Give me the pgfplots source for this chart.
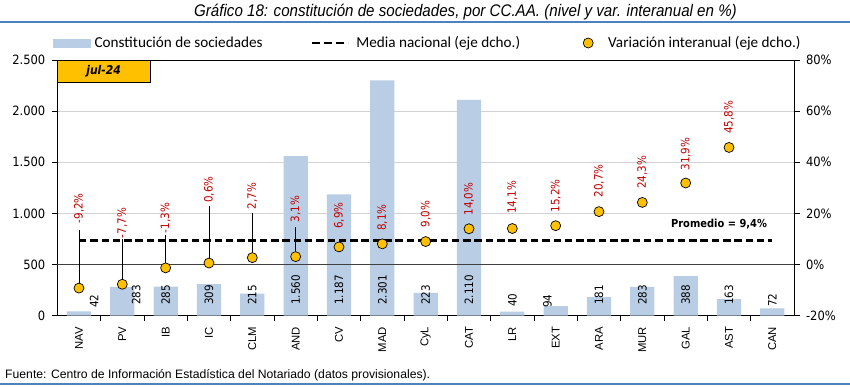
\documentclass[border=0pt]{standalone}
\usepackage{pgfplots}
\pgfplotsset{compat=1.18}
\usepackage{fontspec}
\setmainfont{Liberation Sans}
\newfontfamily\narrowf[FakeStretch=0.9]{Liberation Sans}
\newfontfamily\tahf[FakeStretch=0.9]{DejaVu Sans}
\newfontfamily\calf{Carlito}
\definecolor{barblue}{HTML}{B9CDE5}
\definecolor{dotyel}{HTML}{FFC000}
\definecolor{labred}{HTML}{C00000}
\definecolor{lineblue}{HTML}{4F81BD}
\newcommand{\tickf}{\tahf\fontsize{12.8}{15}\selectfont}
\newcommand{\valf}{\tahf\fontsize{11.5}{13}\selectfont}
\newcommand{\catf}{\fontsize{11.3}{13}\selectfont}
\newcommand{\legf}{\calf\fontsize{15.2}{17}\selectfont}

\pgfplotstableread[row sep=\\]{
x y lab\\
0.35 75 42\\
1.32 105 283\\
2 105 285\\
3 105 309\\
4 105 215\\
5 105 1.560\\
6 105 1.187\\
7 105 2.301\\
8 105 223\\
9 105 2.110\\
10 85 40\\
10.81 75 94\\
12 105 181\\
13 105 283\\
14 105 388\\
15 105 163\\
16 85 72\\
}\barlabels

\pgfplotstableread[row sep=\\]{
x y lab\\
0 0 NAV\\
1 0 PV\\
2 0 IB\\
3 0 IC\\
4 0 CLM\\
5 0 AND\\
6 0 CV\\
7 0 MAD\\
8 0 CyL\\
9 0 CAT\\
10 0 LR\\
11 0 EXT\\
12 0 ARA\\
13 0 MUR\\
14 0 GAL\\
15 0 AST\\
16 0 CAN\\
}\catlabels

\pgfplotstableread[row sep=\\]{
x y lab\\
0 16.1 -9,2\\
1 10.3 -7,7\\
2 12.2 -1,3\\
3 24.1 0,6\\
4 21.5 2,7\\
5 16.4 3,1\\
6 13.9 6,9\\
7 13.2 8,1\\
8 14.5 9,0\\
9 19.1 14,0\\
10 19.7 14,1\\
11 20.4 15,2\\
12 26.2 20,7\\
13 29.5 24,3\\
14 36.7 31,9\\
15 51.0 45,8\\
}\varlabels

\begin{document}
\begin{tikzpicture}[x=1pt,y=1pt]
\useasboundingbox (0,0) rectangle (850,386);
\node[font=\narrowf\itshape\fontsize{16.8}{20}\selectfont, anchor=base, inner sep=0pt] at (465.5,369) {Gráfico 18: constitución de sociedades, por CC.AA. (nivel y var. interanual en \%)};
\fill[lineblue] (0,362.5) rectangle (850,364.5);
\fill[lineblue] (0,1.3) rectangle (850,2.8);
\node[anchor=base west, font=\fontsize{12.2}{14}\selectfont, inner sep=0pt] at (5,8) {Fuente: Centro de Información Estadística del Notariado (datos provisionales).};

\begin{axis}[
  at={(57.3pt,70.3pt)}, anchor=south west,
  width=736.7pt, height=255.7pt, scale only axis,
  xmin=-0.5, xmax=16.5, ymin=0, ymax=2500,
  xtick={0.5,1.5,...,15.5}, xticklabels={},
  ytick={0,500,...,2500},
  tick pos=left, tick align=outside, major tick length=5.5pt,
  ymajorgrids, major grid style={gray!35, line width=0.8pt},
  axis line style={black, line width=0.8pt},
  tick style={black, line width=0.8pt},
  /pgf/number format/1000 sep={.},
  /pgf/number format/assume math mode=true,
  yticklabel style={font=\tickf, xshift=-3pt},
  clip=false,
]
\addplot[ybar, bar width=0.56, fill=barblue, draw=none] coordinates {
(0,42) (1,283) (2,285) (3,309) (4,215) (5,1560) (6,1187) (7,2301) (8,223)
(9,2110) (10,40) (11,94) (12,181) (13,283) (14,388) (15,163) (16,72)};
\addplot[draw=none, mark=none, nodes near coords={\pgfplotspointmeta}, point meta=explicit symbolic,
  every node near coord/.append style={rotate=90, anchor=west, inner sep=0pt, font=\valf, text=black}]
  table[x=x, y=y, meta=lab] {\barlabels};
\addplot[draw=none, mark=none, nodes near coords={\pgfplotspointmeta}, point meta=explicit symbolic,
  every node near coord/.append style={rotate=90, anchor=east, inner ysep=0pt, inner xsep=11pt, font=\catf, text=black}]
  table[x=x, y=y, meta=lab] {\catlabels};
\end{axis}

\begin{axis}[
  at={(57.3pt,70.3pt)}, anchor=south west,
  width=736.7pt, height=255.7pt, scale only axis,
  xmin=-0.5, xmax=16.5, ymin=-20, ymax=80,
  axis y line*=right, axis x line=none,
  axis line style={black, line width=0.8pt},
  tick style={black, line width=0.8pt},
  tick align=outside, major tick length=5.5pt,
  ytick={-20,0,20,40,60,80},
  yticklabels={-20\%,0\%,20\%,40\%,60\%,80\%},
  yticklabel style={font=\tickf, xshift=3pt},
  clip=false,
  legend columns=3,
  legend style={at={(-0.0058,1.0665)}, anchor=west, draw=none, fill=none, font=\legf,
    inner sep=0pt, nodes={inner sep=0pt},
    /tikz/every odd column/.style={column sep=4pt},
    /tikz/every even column/.style={column sep=0pt}},
]
\addlegendimage{legend image code/.code={\fill[barblue] (0pt,-4.2pt) rectangle (37pt,4.2pt);}}
\addlegendentry{Constitución de sociedades\hspace*{48pt}}
\addplot[forget plot, black!75, line width=0.9pt] coordinates {(-0.5,0) (16.5,0)};
\addplot[black, line width=2.8pt, dash pattern=on 7.5pt off 3.8pt,
  legend image code/.code={\draw[black, line width=2.8pt, dash pattern=on 8pt off 4pt] (0pt,0pt) -- (36pt,0pt);}]
  coordinates {(0,9.4) (16,9.4)};
\addlegendentry{\hspace*{3pt}Media nacional (eje dcho.)\hspace*{63pt}}
\addplot[forget plot, black, line width=0.8pt] coordinates {(0,-9.2) (0,13.4)};
\addplot[forget plot, black, line width=0.8pt] coordinates {(1,-7.7) (1,10.0)};
\addplot[forget plot, black, line width=0.8pt] coordinates {(2,-1.3) (2,11.5)};
\addplot[forget plot, black, line width=0.8pt] coordinates {(3,0.6) (3,22.9)};
\addplot[forget plot, black, line width=0.8pt] coordinates {(4,2.7) (4,20.0)};
\addplot[forget plot, black, line width=0.8pt] coordinates {(5,3.1) (5,14.8)};
\addplot[only marks, mark=*, mark size=5pt, mark options={fill=dotyel, draw=black, line width=0.7pt}]
  coordinates {(0,-9.2) (1,-7.7) (2,-1.3) (3,0.6) (4,2.7) (5,3.1) (6,6.9) (7,8.1)
  (8,9.0) (9,14.0) (10,14.1) (11,15.2) (12,20.7) (13,24.3) (14,31.9) (15,45.8)};
\addlegendentry{\hspace*{11pt}Variación interanual (eje dcho.)}
\addplot[forget plot, draw=none, mark=none, nodes near coords={\pgfplotspointmeta\%}, point meta=explicit symbolic,
  every node near coord/.append style={rotate=90, anchor=west, inner sep=0pt, font=\valf, text=labred}]
  table[x=x, y=y, meta=lab] {\varlabels};
\end{axis}

\draw[fill=dotyel, draw=black, line width=0.8pt] (57.3,326) rectangle (150,303.3);
\node[font=\tahf\bfseries\itshape\fontsize{12}{14}\selectfont] at (103.6,314.5) {jul-24};
\node[font=\tahf\bfseries\fontsize{11}{13}\selectfont] at (719,161.7) {Promedio = 9,4\%};
\end{tikzpicture}
\end{document}
